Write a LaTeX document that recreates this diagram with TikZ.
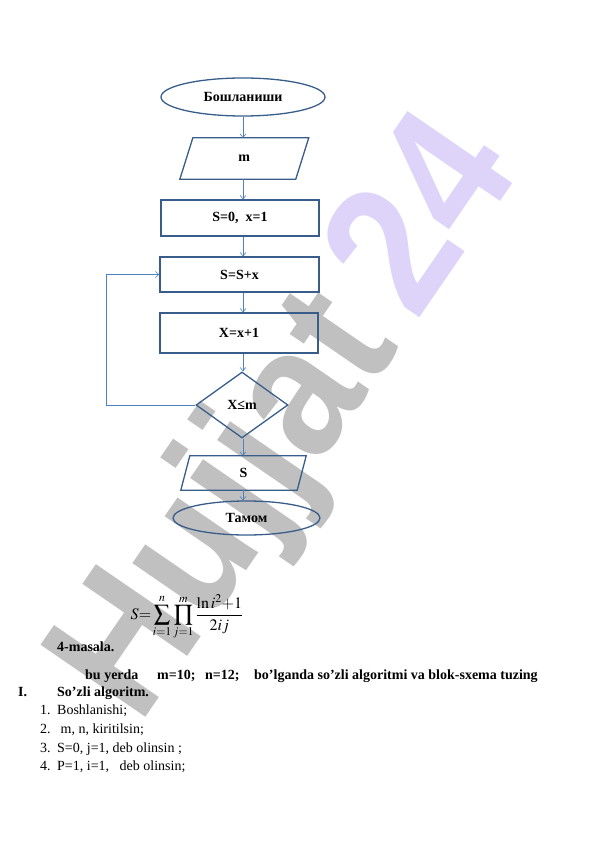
\documentclass[tikz,border=0pt]{standalone}
\usepackage{mathptmx}
\usepackage{fontspec}
\setmainfont{Liberation Serif}
\newfontfamily\markfont{Liberation Sans}
\usetikzlibrary{arrows.meta,shapes.geometric}
\definecolor{shapeblue}{RGB}{56,93,138}
\definecolor{lineblue}{RGB}{79,129,189}
\definecolor{markgray}{RGB}{192,192,192}
\definecolor{markpurple}{RGB}{222,212,250}
\newcommand{\flowfont}{\fontsize{14}{17}\selectfont\bfseries}
\newcommand{\bodyfont}{\fontsize{14}{17}\selectfont}
\tikzset{
  terminal shape/.style={ellipse,draw=shapeblue,line width=1.3pt,inner sep=0pt,font=\flowfont},
  io shape/.style={rectangle,inner sep=0pt,font=\flowfont},
  io edge/.style={draw=shapeblue,line width=1.3pt},
  process shape/.style={rectangle,draw=shapeblue,line width=1.3pt,inner sep=0pt,font=\flowfont},
  decision shape/.style={diamond,draw=shapeblue,line width=1.3pt,inner sep=0pt,font=\flowfont},
  flow line/.style={->,lineblue,line width=0.6pt},
  body text/.style={anchor=base west,inner sep=0pt,font=\bodyfont},
  bold text/.style={anchor=base west,inner sep=0pt,font=\flowfont},
  >={Straight Barb[length=3.5pt,width=6pt]},
}
\newcommand{\drawSlantBox}[2]{
\draw[io edge] ([xshift=-#2]#1.south west) -- ([xshift=#2]#1.north west) -- ([xshift=#2]#1.north east) -- ([xshift=-#2]#1.south east) -- cycle;
}

\begin{document}
\begin{tikzpicture}[x=1pt,y=-1pt]
\useasboundingbox (0,0) rectangle (596,842);
% watermark
\node[anchor=base west,inner sep=0pt,rotate=55.5,xscale=0.9,font=\markfont\bfseries\fontsize{185}{185}\selectfont] (mark) at (139,727) {\textcolor{markgray}{Hujjat}\,\textcolor{markpurple}{24}};
% flowchart
\node[terminal shape,minimum width=164pt,minimum height=38pt] (start) at (243,97) {Бошланиши};
\node[io shape,minimum width=115.5pt,minimum height=41pt] (input) at (244.3,158.5) {m};
\drawSlantBox{input}{6.5pt}
\node[process shape,minimum width=158pt,minimum height=36pt] (init) at (240,218) {S=0,\ \ x=1};
\node[process shape,minimum width=159pt,minimum height=35pt] (add) at (239.5,274.5) {S=S+x};
\node[process shape,minimum width=158pt,minimum height=40pt] (step) at (239,333) {X=x+1};
\node[decision shape,minimum width=92pt,minimum height=66pt] (check) at (242,405) {X≤m};
\node[io shape,minimum width=116pt,minimum height=34pt] (output) at (243.5,473) {S};
\drawSlantBox{output}{4.5pt}
\node[terminal shape,minimum width=147pt,minimum height=34pt] (stop) at (246.5,518) {Тамом};
\coordinate (back) at (106,405);
\draw[flow line] (start.south) -- (start.south |- input.north);
\draw[flow line] (start.south |- input.south) -- (start.south |- init.north);
\draw[flow line] (start.south |- init.south) -- (start.south |- add.north);
\draw[flow line] (start.south |- add.south) -- (start.south |- step.north);
\draw[flow line] (start.south |- step.south) -- (start.south |- check.north);
\draw[flow line] (start.south |- check.south) -- (start.south |- output.north);
\draw[flow line] (start.south |- output.south) -- (start.south |- stop.north);
\draw[flow line] (check.west) -- (back) |- (add.west);
% text below
\node[inner sep=0pt,font=\fontsize{16}{19}\selectfont] (formula) at (187,617) {$\displaystyle S{=}\sum_{i=1}^{n}\prod_{j=1}^{m}\frac{\ln i^{2}{+}1}{2ij}$};
\node[bold text] (task) at (57,651) {4-masala.};
\node[bold text] (where) at (85,679) {bu yerda};
\node[bold text] (mval) at (157,679) {m=10;};
\node[bold text] (nval) at (205,679) {n=12;};
\node[bold text] (ask) at (254,679) {bo’lganda so’zli algoritmi va blok-sxema tuzing};
\node[bold text] (part) at (18,696) {I.};
\node[bold text] (parttitle) at (57,696) {So’zli algoritm.};
\foreach \n/\txt/\yy in {1/{Boshlanishi;}/714, 2/{\ m, n, kiritilsin;}/733, 3/{S=0, j=1, deb olinsin ;}/752, 4/{P=1, i=1,\ \ \ deb olinsin;}/770} {
  \node[body text] (num\n) at (40,\yy) {\n.};
  \node[body text] (item\n) at (57,\yy) {\txt};
}
\end{tikzpicture}
\end{document}
